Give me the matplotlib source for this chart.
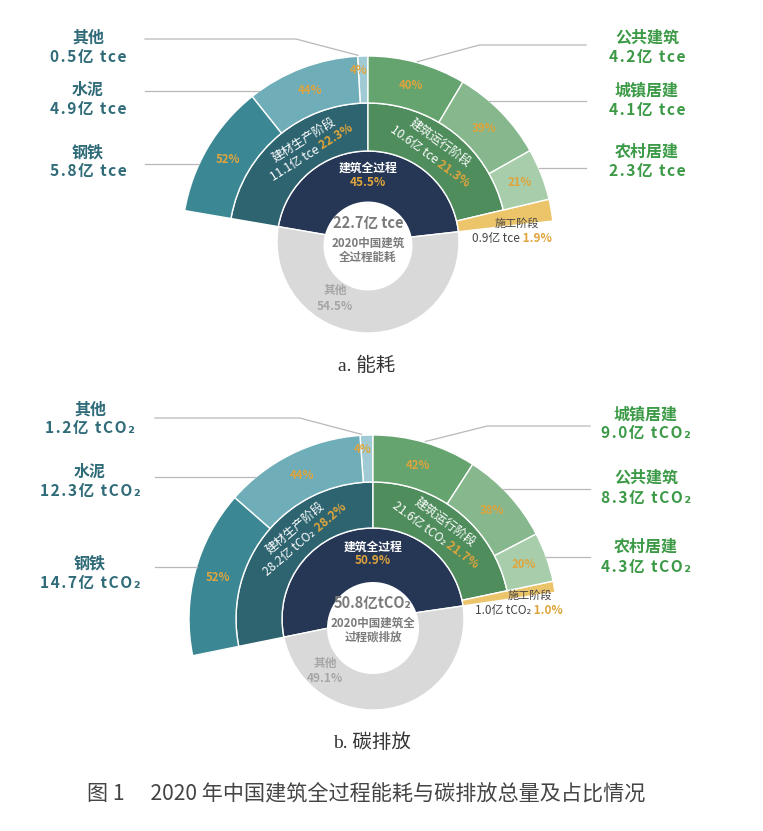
import matplotlib
matplotlib.use('Agg')
import matplotlib.pyplot as plt
from matplotlib.patches import Wedge, Circle
import numpy as np

W, H = 763, 831
plt.rcParams['font.family'] = ['Noto Sans CJK SC', 'DejaVu Sans']

# ---------------- data ----------------
# (a) energy
e_total = "22.7亿 tce"
e_center = ["2020中国建筑", "全过程能耗"]
e_unit = "亿 tce"
e_inner_pct = [45.5, 54.5]                 # 建筑全过程, 其他
e_stage_names = ["建材生产阶段", "建筑运行阶段", "施工阶段"]
e_stage_vals = [11.1, 10.6, 0.9]
e_stage_pct = [22.3, 21.3, 1.9]
e_mat_names = ["其他", "水泥", "钢铁"]
e_mat_vals = [0.5, 4.9, 5.8]
e_mat_pct = [4, 44, 52]
e_op_names = ["公共建筑", "城镇居建", "农村居建"]
e_op_vals = [4.2, 4.1, 2.3]
e_op_pct = [40, 39, 21]

# (b) carbon
c_total = "50.8亿tCO₂"
c_center = ["2020中国建筑全", "过程碳排放"]
c_unit = "亿 tCO₂"
c_inner_pct = [50.9, 49.1]
c_stage_names = ["建材生产阶段", "建筑运行阶段", "施工阶段"]
c_stage_vals = [28.2, 21.6, 1.0]
c_stage_pct = [28.2, 21.7, 1.0]
c_mat_names = ["其他", "水泥", "钢铁"]
c_mat_vals = [1.2, 12.3, 14.7]
c_mat_pct = [4, 44, 52]
c_op_names = ["城镇居建", "公共建筑", "农村居建"]
c_op_vals = [9.0, 8.3, 4.3]
c_op_pct = [42, 38, 20]

titles = ["a. 能耗", "b. 碳排放"]
caption = "图 1\u3000 2020 年中国建筑全过程能耗与碳排放总量及占比情况"

# ---------------- style ----------------
NAVY = '#263755'
MAT_STAGE = '#2e6470'
MAT_COLS = ['#a0cbd4', '#6fadb9', '#3b8894']
OP_STAGE = '#4f8d5d'
OP_COLS = ['#65a36f', '#86b78d', '#a8cdab']
CON = '#ecc46a'
GRAY = '#d9d9d9'
GOLD = '#dfa53c'
TEAL_T = '#2f6b78'
GREEN_T = '#3c9a47'
OTHER_T = '#a6a6a6'
CENTER_T = '#7b7b7b'
LEADER = '#b8b8b8'
HAIR = '\u200a'

fig = plt.figure(figsize=(W / 100, H / 100), dpi=100)
ax = fig.add_axes([0, 0, 1, 1])
ax.set_xlim(0, W)
ax.set_ylim(0, H)
ax.axis('off')
renderer = fig.canvas.get_renderer()


def pol(cx, cy, r, ang):
    a = np.deg2rad(ang)
    return cx + r * np.cos(a), cy + r * np.sin(a)


def tw(s, **kw):
    t = ax.text(0, 0, s, **kw)
    w = t.get_window_extent(renderer).width
    t.remove()
    return w


def two_part(x, y, s1, s2, kw1, kw2, rot=0.0):
    w1 = tw(s1, **kw1)
    w2 = tw(s2, **kw2)
    off = w1 - (w1 + w2) / 2
    a = np.deg2rad(rot)
    px, py = x + off * np.cos(a), y + off * np.sin(a)
    ax.text(px, py, s1, ha='right', va='center_baseline', rotation=rot,
            rotation_mode='anchor', **kw1)
    ax.text(px, py, s2, ha='left', va='center_baseline', rotation=rot,
            rotation_mode='anchor', **kw2)


def tracked(s):
    return HAIR.join(list(s))


def draw_chart(cfg):
    cx, cy = cfg['center'][0], H - cfg['center'][1]
    r1, r2, r3 = cfg['radii']
    a_mat, a_op, a_con = [p * 3.6 for p in cfg['stage_pct']]
    lo = 90 - a_op - a_con
    hi = 90 + a_mat
    ew = dict(edgecolor='white', linewidth=1.0)

    # ring 1
    ax.add_patch(Wedge((cx, cy), r1, lo, hi, facecolor=NAVY, **ew))
    ax.add_patch(Wedge((cx, cy), r1, hi, lo + 360, facecolor=GRAY, **ew))
    # ring 2
    ax.add_patch(Wedge((cx, cy), r2, 90, hi, width=r2 - r1, facecolor=MAT_STAGE, **ew))
    ax.add_patch(Wedge((cx, cy), r2, 90 - a_op, 90, width=r2 - r1, facecolor=OP_STAGE, **ew))
    ax.add_patch(Wedge((cx, cy), r3, lo, 90 - a_op, width=r3 - r1, facecolor=CON, **ew))

    # ring 3 materials (counter-clockwise from top) and operation (clockwise)
    segs = []
    cum = np.concatenate([[0], np.cumsum(cfg['mat_pct'])])
    for i, p in enumerate(cfg['mat_pct']):
        t1 = 90 + a_mat * cum[i] / 100
        t2 = 90 + a_mat * cum[i + 1] / 100
        ax.add_patch(Wedge((cx, cy), r3, t1, t2, width=r3 - r2, facecolor=MAT_COLS[i], **ew))
        segs.append(('L', i, t1, t2, p))
    cum = np.concatenate([[0], np.cumsum(cfg['op_pct'])])
    for i, p in enumerate(cfg['op_pct']):
        t2 = 90 - a_op * cum[i] / 100
        t1 = 90 - a_op * cum[i + 1] / 100
        ax.add_patch(Wedge((cx, cy), r3, t1, t2, width=r3 - r2, facecolor=OP_COLS[i], **ew))
        segs.append(('R', i, t1, t2, p))

    # hole
    hx, hy = cfg['hole']
    ax.add_patch(Circle((cx + hx, cy - hy), cfg['hole_r'], facecolor='white', edgecolor='none'))

    # ring 3 percentages
    for side, i, t1, t2, p in segs:
        mid = (t1 + t2) / 2
        r = (r2 + r3) / 2
        if p < 10:
            r = r3 - 14
            mid += 1.5
        x, y = pol(cx, cy, r, mid)
        ax.text(x, y, f"{p}%", ha='center', va='center', color=GOLD,
                fontsize=8.2, fontweight='bold')

    # ring 2 labels
    rm = (r1 + r2) / 2
    kw_w = dict(color='white', fontsize=8.7)
    kw_g = dict(color=GOLD, fontsize=8.7, fontweight='bold')
    for k, ang in enumerate([90 + 0.4 * a_mat, 90 - 0.47 * a_op]):
        rot = ang - 90
        x, y = pol(cx, cy, rm + 8, ang)
        ax.text(x, y, cfg['stage_names'][k], ha='center', va='center_baseline',
                rotation=rot, rotation_mode='anchor', **kw_w)
        x, y = pol(cx, cy, rm - 8, ang)
        two_part(x, y, f"{cfg['stage_vals'][k]}{cfg['unit']}",
                 f" {cfg['stage_pct'][k]}%", kw_w, kw_g, rot)

    # construction label
    (nx, ny), (vx, vy) = cfg['con_pos']
    ax.text(cx + nx, cy - ny, cfg['stage_names'][2], ha='center', va='center_baseline',
            color='#454545', fontsize=8)
    two_part(cx + vx, cy - vy, f"{cfg['stage_vals'][2]}{cfg['unit']}",
             f" {cfg['stage_pct'][2]}%", dict(color='#454545', fontsize=8.5),
             dict(color=GOLD, fontsize=8.5, fontweight='bold'))

    # inner ring labels
    ax.text(cx, cy + cfg['inner_dy'][0], "建筑全过程", ha='center', va='center',
            color='white', fontsize=8.5, fontweight='bold')
    ax.text(cx, cy + cfg['inner_dy'][1], f"{cfg['inner_pct'][0]}%", ha='center', va='center',
            color=GOLD, fontsize=8.5, fontweight='bold')
    ox, oy = cfg['other_pos']
    ax.text(cx + ox, cy + oy, f"其他\n{cfg['inner_pct'][1]}%", ha='center', va='center',
            color=OTHER_T, fontsize=8.5, fontweight='bold', linespacing=1.3)

    # hole text
    ax.text(cx, cy + cfg['hole_dy'][0], cfg['total'], ha='center', va='center',
            color=CENTER_T, fontsize=10.5, fontweight='bold')
    ax.text(cx, cy + cfg['hole_dy'][1], cfg['center_txt'][0], ha='center', va='center',
            color=CENTER_T, fontsize=8.3, fontweight='bold')
    ax.text(cx, cy + cfg['hole_dy'][2], cfg['center_txt'][1], ha='center', va='center',
            color=CENTER_T, fontsize=8.3, fontweight='bold')

    # outer labels + leaders
    for side, i, t1, t2, p in segs:
        lay = cfg['left_lab'] if side == 'L' else cfg['right_lab']
        names = cfg['mat_names'] if side == 'L' else cfg['op_names']
        vals = cfg['mat_vals'] if side == 'L' else cfg['op_vals']
        col = TEAL_T if side == 'L' else GREEN_T
        lx, ny_, vy_, ly_ = lay['x'], lay['ny'][i], lay['vy'][i], lay['ly'][i]
        ax.text(lx, H - ny_, names[i], ha='center', va='center', color=col,
                fontsize=11.5, fontweight='bold')
        ax.text(lx, H - vy_, tracked(f"{vals[i]}{cfg['unit']}"), ha='center', va='center',
                color=col, fontsize=11.2, fontweight='bold')
        ly = H - ly_
        dy = ly - cy
        x_end = lay['x_end']
        hit = None
        if abs(dy) < r3:
            dx = np.sqrt(r3 ** 2 - dy ** 2)
            ang = np.degrees(np.arctan2(dy, -dx if side == 'L' else dx)) % 360
            if t1 <= ang <= t2:
                hit = (cx - dx if side == 'L' else cx + dx, ly)
        if hit is not None:
            ax.plot([x_end, hit[0]], [ly, ly], color=LEADER, lw=0.9)
        else:
            mid = (t1 + t2) / 2 + (1.5 if p < 10 else 0)
            ax_, ay_ = pol(cx, cy, r3 + 1, mid)
            ex = ax_ - 62 if side == 'L' else ax_ + 62
            ax.plot([x_end, ex, ax_], [ly, ly, ay_], color=LEADER, lw=0.9)

    # subtitle
    tx, ty = cfg['title_pos']
    ax.text(tx, H - ty, cfg['title'], ha='center', va='center', color='#333333',
            fontsize=14, family=['Liberation Serif', 'Noto Sans CJK SC'])


charts = [
    dict(center=(368, 242), radii=(91, 139, 186), hole=(0, 4), hole_r=44.5,
         stage_names=e_stage_names, stage_vals=e_stage_vals, stage_pct=e_stage_pct,
         mat_names=e_mat_names, mat_vals=e_mat_vals, mat_pct=e_mat_pct,
         op_names=e_op_names, op_vals=e_op_vals, op_pct=e_op_pct,
         inner_pct=e_inner_pct, unit=e_unit, total=e_total, center_txt=e_center,
         con_pos=((149, -20), (144, -5)), inner_dy=(74, 60), other_pos=(-33, -56),
         hole_dy=(19, -1, -15),
         left_lab=dict(x=88, ny=[38, 90, 152], vy=[57, 109, 171], ly=[39, 91, 164], x_end=145),
         right_lab=dict(x=647, ny=[38, 90, 152], vy=[57, 110, 171], ly=[45, 101, 168], x_end=586),
         title=titles[0], title_pos=(367, 366)),
    dict(center=(373, 619), radii=(91, 137, 184), hole=(0, 9), hole_r=46,
         stage_names=c_stage_names, stage_vals=c_stage_vals, stage_pct=c_stage_pct,
         mat_names=c_mat_names, mat_vals=c_mat_vals, mat_pct=c_mat_pct,
         op_names=c_op_names, op_vals=c_op_vals, op_pct=c_op_pct,
         inner_pct=c_inner_pct, unit=c_unit, total=c_total, center_txt=c_center,
         con_pos=((157, -25), (146, -10)), inner_dy=(72, 58), other_pos=(-48, -52),
         hole_dy=(16, -4, -18),
         left_lab=dict(x=90, ny=[410, 472, 563], vy=[428, 491, 583], ly=[418, 477, 567], x_end=155),
         right_lab=dict(x=646, ny=[414, 478, 547], vy=[433, 498, 567], ly=[426, 489, 557], x_end=590),
         title=titles[1], title_pos=(372, 743)),
]

for cfg in charts:
    draw_chart(cfg)

ax.text(366, H - 793, caption, ha='center', va='center', color='#444444', fontsize=15.2)

fig.savefig('out.png', dpi=100)
